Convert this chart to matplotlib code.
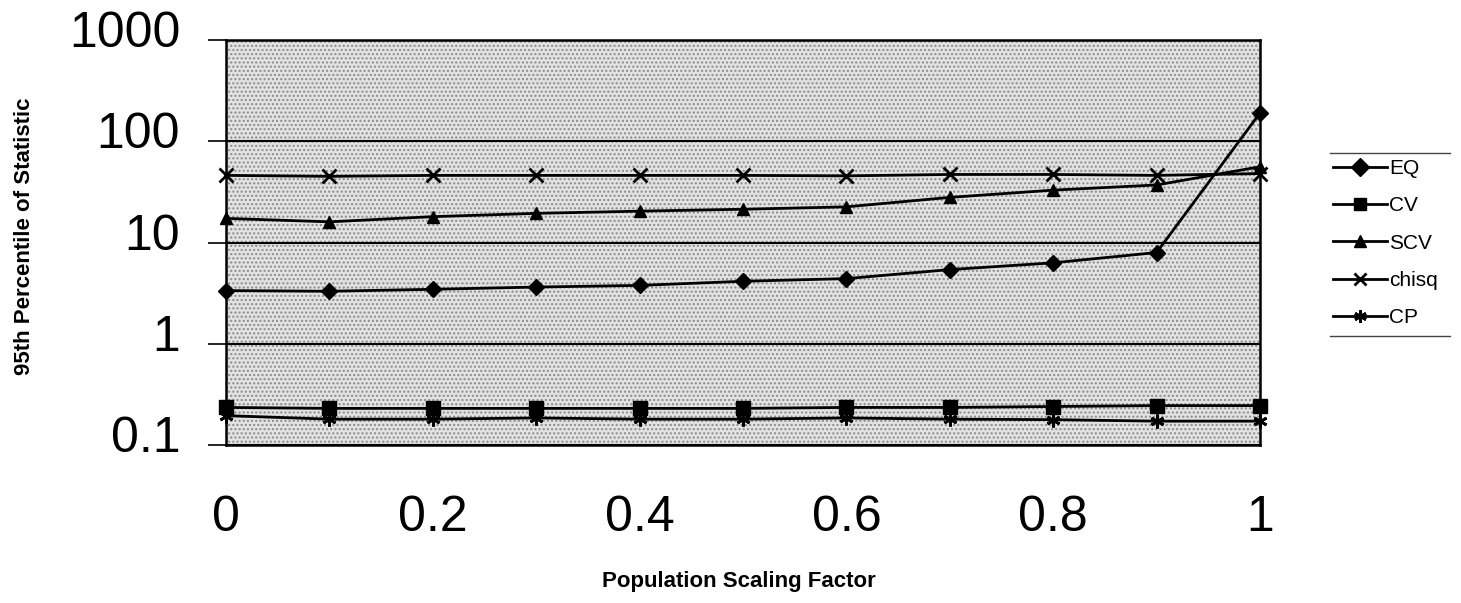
import matplotlib

matplotlib.use("Agg")
import matplotlib.pyplot as plt
import matplotlib.transforms as mtransforms
from matplotlib.lines import Line2D
from matplotlib.patches import Rectangle

plt.rcParams["font.family"] = ["Liberation Sans", "DejaVu Sans"]
plt.rcParams["hatch.linewidth"] = 1.0

scaling = [0.0, 0.1, 0.2, 0.3, 0.4, 0.5, 0.6, 0.7, 0.8, 0.9, 1.0]
eq = [3.35, 3.3, 3.45, 3.63, 3.77, 4.14, 4.4, 5.4, 6.3, 7.96, 190]
cv = [0.235, 0.23, 0.23, 0.23, 0.23, 0.23, 0.235, 0.235, 0.24, 0.245, 0.245]
scv = [17.3, 16.0, 18.0, 19.4, 20.4, 21.3, 22.5, 27.9, 32.9, 37, 56]
chisq = [46, 45, 46, 46, 46, 46, 45.5, 47, 47, 46, 48]
cp = [0.195, 0.18, 0.18, 0.185, 0.18, 0.18, 0.185, 0.18, 0.178, 0.172, 0.172]

series = [
    ("EQ", eq, "D", 8),
    ("CV", cv, "s", 10),
    ("SCV", scv, "^", 9),
    ("chisq", chisq, "x", 10),
    ("CP", cp, (6, 2, 0), 10),
]
y_ticks = [0.1, 1, 10, 100, 1000]
y_tick_labels = ["0.1", "1", "10", "100", "1000"]
x_ticks = [0, 0.2, 0.4, 0.6, 0.8, 1]
x_tick_labels = ["0", "0.2", "0.4", "0.6", "0.8", "1"]

fig = plt.figure(figsize=(14.61, 6.03), dpi=100)
W, H = 1461, 603
ax = fig.add_axes([226 / W, 1 - 445 / H, (1260 - 226) / W, (445 - 40) / H])

# stippled grey plot area
ax.add_patch(
    Rectangle(
        (0, 0), 1, 1, transform=ax.transAxes, facecolor="#e2e2e2",
        edgecolor="#8a8a8a", hatch="....", linewidth=0, zorder=0,
    )
)

for label, values, marker, size in series:
    thin = marker == "x" or isinstance(marker, tuple)
    ax.plot(
        scaling, values, color="black", linewidth=2.0, marker=marker,
        markersize=size, markeredgewidth=2.0 if thin else 1.0,
        markerfacecolor="black", markeredgecolor="black", label=label,
        clip_on=False, zorder=3,
    )

ax.set_yscale("log")
ax.set_ylim(0.1, 1000)
ax.set_xlim(0, 1)
ax.set_yticks(y_ticks)
ax.set_yticklabels(y_tick_labels)
ax.yaxis.set_minor_locator(matplotlib.ticker.NullLocator())
ax.set_xticks(x_ticks)
ax.set_xticklabels(x_tick_labels)
ax.tick_params(axis="y", labelsize=36, length=13, width=1.2, pad=20, direction="out")
ax.tick_params(axis="x", labelsize=36, length=0, pad=36)
ax.grid(True, axis="y", color="black", linewidth=1.5, zorder=1)
ax.set_axisbelow(True)
for spine in ax.spines.values():
    spine.set_linewidth(1.8)

# Excel puts the value labels slightly above their ticks
offset = mtransforms.ScaledTranslation(0, 11 / 100, fig.dpi_scale_trans)
for lab in ax.get_yticklabels():
    lab.set_transform(lab.get_transform() + offset)

fig.text(739 / W, 1 - 582 / H, "Population Scaling Factor", ha="center",
         va="center", fontsize=16, fontweight="bold")
fig.text(25 / W, 1 - 236 / H, "95th Percentile of Statistic", ha="center",
         va="center", rotation=90, fontsize=16, fontweight="bold")

leg = ax.legend(
    loc="upper left", bbox_to_anchor=(1333 / W, 1 - 159 / H),
    bbox_transform=fig.transFigure, frameon=False, fontsize=15,
    handlelength=2.6, handletextpad=0.1, labelspacing=0.88, borderaxespad=0,
    borderpad=0,
)
for h in leg.legend_handles:
    h.set_markersize(9)

fig.add_artist(Line2D([1330 / W, 1450 / W], [1 - 153 / H, 1 - 153 / H],
                      color="#444444", linewidth=1.0))
fig.add_artist(Line2D([1330 / W, 1450 / W], [1 - 336 / H, 1 - 336 / H],
                      color="#444444", linewidth=1.0))

fig.savefig("out.png", dpi=100)
